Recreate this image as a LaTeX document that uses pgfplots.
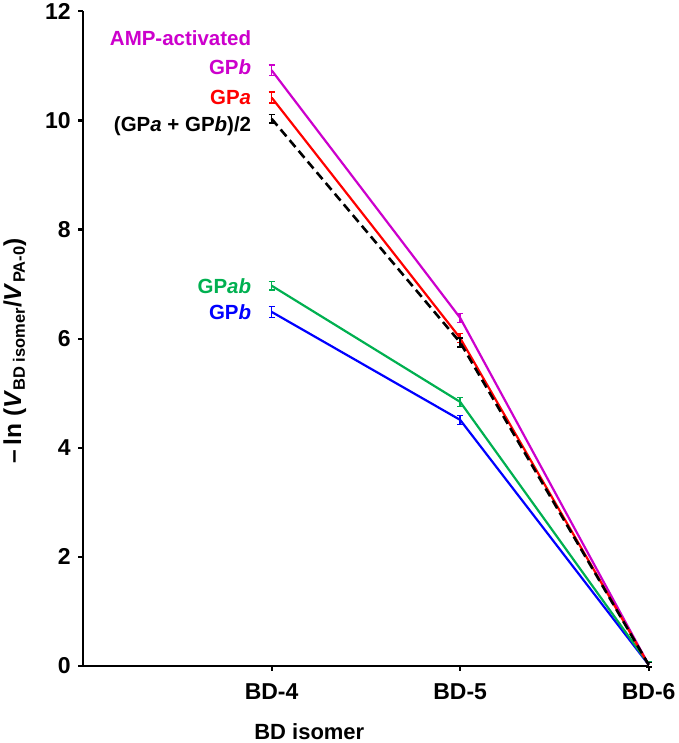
\documentclass[border=0pt]{standalone}
\usepackage{pgfplots}
\pgfplotsset{compat=1.18}
\usepackage{fontspec}
\setmainfont{Liberation Sans}
\definecolor{ampmag}{RGB}{204,0,204}
\definecolor{gpared}{RGB}{255,0,0}
\definecolor{gpabgreen}{RGB}{0,176,80}
\definecolor{gpbblue}{RGB}{0,0,255}
\begin{document}
\begin{tikzpicture}
\begin{axis}[
  scale only axis,
  width=566pt, height=655pt,
  xmin=0, xmax=3, ymin=0, ymax=12,
  axis lines=left,
  axis line style={line width=2.6pt,-},
  xtick={1,2,3},
  xticklabels={BD-4,BD-5,BD-6},
  ytick={0,2,...,12},
  tick style={line width=2.2pt,black},
  major tick length=5pt,
  tick align=outside,
  font=\fontsize{22}{26}\selectfont\bfseries,
  /pgf/number format/assume math mode=true,
  ticklabel style={font=\fontsize{23}{27}\selectfont\bfseries},
  yticklabel style={xshift=-4pt},
  xticklabel style={yshift=-9pt},
  xlabel={BD isomer},
  xlabel style={at={(ticklabel cs:0.4)},anchor=near ticklabel,yshift=-17pt},
  ylabel={\fontsize{24.5}{28}\selectfont\textendash\,ln (\textit{V}\textsubscript{\fontsize{16.5}{19}\selectfont BD isomer}/\textit{V}\textsubscript{\fontsize{16.5}{19}\selectfont PA-0})},
  ylabel style={yshift=12pt,xshift=-12pt},
  clip=false,
  every axis plot/.append style={line width=2.2pt},
  error bars/error bar style={line width=1.5pt},
  error bars/error mark options={rotate=90,mark size=3pt,line width=1.5pt},
]
\addplot[gpbblue, error bars/.cd, y dir=both, y explicit] coordinates {
  (1,6.49) +- (0,0.1)
  (2,4.51) +- (0,0.08)
  (3,0.02) +- (0,0.04)
};
\addplot[gpabgreen, error bars/.cd, y dir=both, y explicit] coordinates {
  (1,6.97) +- (0,0.08)
  (2,4.84) +- (0,0.08)
  (3,0.03) +- (0,0.04)
};
\addplot[ampmag, error bars/.cd, y dir=both, y explicit] coordinates {
  (1,10.92) +- (0,0.1)
  (2,6.38) +- (0,0.08)
  (3,0.02) +- (0,0.04)
};
\addplot[gpared, error bars/.cd, y dir=both, y explicit] coordinates {
  (1,10.42) +- (0,0.1)
  (2,6.01) +- (0,0.08)
  (3,0.02) +- (0,0.04)
};
\addplot[black, line width=2.6pt, dash pattern=on 9pt off 5pt, error bars/.cd, y dir=both, y explicit] coordinates {
  (1,10.03) +- (0,0.08)
  (2,5.93) +- (0,0.08)
  (3,0.02) +- (0,0.04)
};
\begin{scope}[font=\fontsize{20.5}{24}\selectfont\bfseries]
\node[anchor=east,ampmag] at (axis cs:0.91,11.5) {AMP-activated};
\node[anchor=east,ampmag] at (axis cs:0.91,10.98) {GP\textit{b}};
\node[anchor=east,gpared] at (axis cs:0.91,10.43) {GP\textit{a}};
\node[anchor=east,black] at (axis cs:0.91,9.9) {(GP\textit{a} + GP\textit{b})/2};
\node[anchor=east,gpabgreen] at (axis cs:0.91,6.97) {GP\textit{ab}};
\node[anchor=east,gpbblue] at (axis cs:0.91,6.49) {GP\textit{b}};
\end{scope}
\end{axis}
\end{tikzpicture}
\end{document}
